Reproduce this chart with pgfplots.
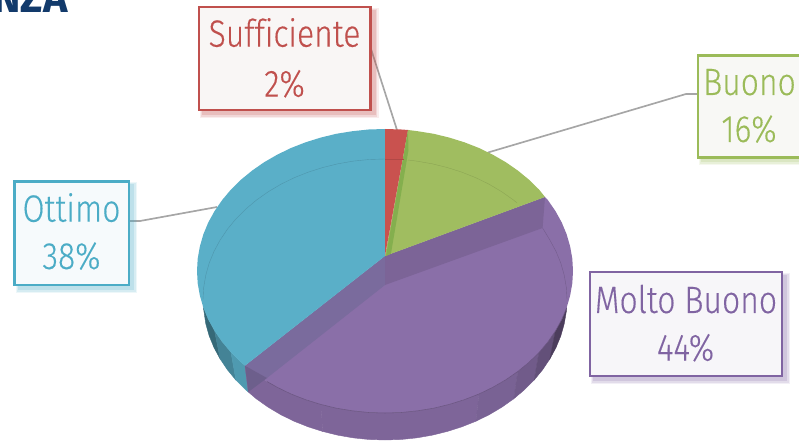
\documentclass[border=0pt]{standalone}
\usepackage{pgfplots}
\usepackage{fontspec}
\pgfplotsset{compat=1.18}
\setmainfont{Liberation Sans}
\newfontfamily\lab[FakeStretch=0.84,FakeBold=0.25,Ligatures=NoCommon]{Fira Sans Light}
\newfontfamily\ttl{Fira Sans}
\definecolor{cy}{HTML}{5AAFC8}
\definecolor{re}{HTML}{C9524F}
\definecolor{gr}{HTML}{A0BD60}
\definecolor{pu}{HTML}{8A6FA8}
\definecolor{bre}{HTML}{C0504D}
\definecolor{bgr}{HTML}{9BBB59}
\definecolor{bcy}{HTML}{4BACC6}
\definecolor{bpu}{HTML}{8064A2}
\definecolor{lead}{HTML}{A6A6A6}
\definecolor{fre}{HTML}{F9F6F5}
\definecolor{fcy}{HTML}{F6FAFC}
\definecolor{fgr}{HTML}{F8F8F5}
\definecolor{fpu}{HTML}{F7F6F9}
\definecolor{navy}{HTML}{123A6B}
\definecolor{sliver}{HTML}{84AF4E}
\newcommand{\lblbox}[6]{% x0 y0 x1 y1 border fill
  \fill[#5,opacity=.10] (axis cs:#1+1,#2+1) rectangle (axis cs:#3+8,#4+8);
  \fill[#5,opacity=.14] (axis cs:#1+2,#2+2) rectangle (axis cs:#3+6.5,#4+6.5);
  \fill[#5,opacity=.18] (axis cs:#1+3,#2+3) rectangle (axis cs:#3+5,#4+5);
  \draw[#5,line width=1.7pt,fill=#6] (axis cs:#1,#2) rectangle (axis cs:#3,#4);
}
\newcommand{\lbl}[4]{\node[anchor=base,text=#4,inner sep=0pt] at (axis cs:#1,#2) {\lab\fontsize{28.5}{28.5}\selectfont #3};}
\begin{document}
\begin{tikzpicture}
\useasboundingbox (0,0) rectangle (599.25pt,330.75pt);
\begin{axis}[at={(0,0)},anchor=south west,scale only axis,width=599.25pt,height=330.75pt,
  xmin=0,xmax=799,ymin=0,ymax=441,y dir=reverse,hide axis,clip=true]
% leader lines
\addplot[lead,line width=1.25pt] coordinates {(370.7,48) (397,130)};
\addplot[lead,line width=1.25pt] coordinates {(697,94) (686,94) (488,152.5)};
\addplot[lead,line width=1.25pt] coordinates {(129,221) (140,221) (217,207)};
% cyan side
\addplot[draw=cy!60!black,line width=.3pt,fill=cy!60!black] coordinates {(203.4,307.8)(208.3,319.6)(214.6,331)(220.1,358.9)(214,347.6)(209.2,335.9)(205.8,323.9)} --cycle;
\addplot[draw=cy!75!black,line width=.3pt,fill=cy!75!black] coordinates {(214.6,331)(222.2,342)(231,352.5)(235.9,380.1)(227.4,369.8)(220.1,358.9)} --cycle;
\addplot[draw=cy!88!black,line width=.3pt,fill=cy!88!black] coordinates {(231,352.5)(241,362.3)(245,365.7)(248.3,392)(245.6,389.8)(235.9,380.1)} --cycle;
% purple side
\addplot[draw=pu!91!black,line width=.3pt,fill=pu!91!black] coordinates {(245,365.7)(252.1,371.4)(264.2,379.8)(277.2,387.3)(291,394)(305.6,399.7)(320.7,404.4)(322.8,431.5)(308.1,426.8)(294,421.2)(280.6,414.6)(268,407.1)(256.3,398.8)(248.3,392)} --cycle;
\addplot[draw=pu!91!black,line width=.3pt,fill=pu!91!black] coordinates {(320.7,404.4)(336.3,408.2)(352.4,410.8)(368.6,412.5)(385,413)(401.4,412.5)(417.6,410.8)(433.7,408.2)(449.3,404.4)(464.4,399.7)(479,394)(476,421.2)(461.9,426.8)(447.2,431.5)(432.1,435.2)(416.6,437.9)(400.9,439.5)(385,440)(369.1,439.5)(353.4,437.9)(337.9,435.2)(322.8,431.5)} --cycle;
\addplot[draw=pu!88!black,line width=.3pt,fill=pu!88!black] coordinates {(479,394)(492.8,387.3)(505.8,379.8)(517.9,371.4)(513.7,398.8)(502,407.1)(489.4,414.6)(476,421.2)} --cycle;
\addplot[draw=pu!82!black,line width=.3pt,fill=pu!82!black] coordinates {(517.9,371.4)(529,362.3)(539,352.5)(534.1,380.1)(524.4,389.8)(513.7,398.8)} --cycle;
\addplot[draw=pu!72!black,line width=.3pt,fill=pu!72!black] coordinates {(539,352.5)(547.8,342)(555.4,331)(549.9,358.9)(542.6,369.8)(534.1,380.1)} --cycle;
\addplot[draw=pu!55!black,line width=.3pt,fill=pu!55!black] coordinates {(555.4,331)(561.7,319.6)(566.6,307.8)(566.3,311.7)(564.2,323.9)(560.8,335.9)(556,347.6)(549.9,358.9)} --cycle;
% top faces
\addplot[draw=none,fill=pu] coordinates {(385,256)(545,197)(547.8,200)(555.4,211)(561.7,222.4)(566.6,234.2)(570.1,246.3)(572.3,258.6)(573,271)(572.3,283.4)(570.1,295.7)(566.6,307.8)(561.7,319.6)(555.4,331)(547.8,342)(539,352.5)(529,362.3)(517.9,371.4)(505.8,379.8)(492.8,387.3)(479,394)(464.4,399.7)(449.3,404.4)(433.7,408.2)(417.6,410.8)(401.4,412.5)(385,413)(368.6,412.5)(352.4,410.8)(336.3,408.2)(320.7,404.4)(305.6,399.7)(291,394)(277.2,387.3)(264.2,379.8)(252.1,371.4)(245,365.7)} --cycle;
\addplot[draw=none,fill=pu!90!black] coordinates {(385,256)(545,197)(542.6,228)(385,285)} --cycle;
\addplot[draw=none,fill=pu!92!bcy!92!black] coordinates {(385,256)(385,285)(267,378)(245,365.7)} --cycle;
\addplot[draw=none,fill=pu!92!bcy!82!black] coordinates {(245,365.7)(267,378)(248.3,392)} --cycle;
\addplot[draw=none,fill=cy] coordinates {(385,256)(385,129)(368.6,129.5)(352.4,131.2)(336.3,133.8)(320.7,137.6)(305.6,142.3)(291,148)(277.2,154.7)(264.2,162.2)(252.1,170.6)(241,179.7)(231,189.5)(222.2,200)(214.6,211)(208.3,222.4)(203.4,234.2)(199.9,246.3)(197.7,258.6)(197,271)(197.7,283.4)(199.9,295.7)(203.4,307.8)(208.3,319.6)(214.6,331)(222.2,342)(231,352.5)(241,362.3)(245,365.7)} --cycle;
\addplot[draw=none,fill=gr] coordinates {(385,256)(408,130)(417.6,131.2)(433.7,133.8)(449.3,137.6)(464.4,142.3)(479,148)(492.8,154.7)(505.8,162.2)(517.9,170.6)(529,179.7)(539,189.5)(545,197)} --cycle;
\addplot[draw=none,fill=re] coordinates {(385,256)(385,129)(401.4,129.5)(408,130)} --cycle;
\addplot[draw=none,fill=sliver] coordinates {(408,130)(386,256)(391,253.5)(408.5,150)} --cycle;
% faint bottom rim lines
\addplot[cy!86!black,line width=.3pt] coordinates {(385,159)(369.1,159.5)(353.4,161.1)(337.9,163.8)(322.8,167.5)(308.1,172.2)(294,177.8)(280.6,184.4)(268,191.9)(256.3,200.2)(245.6,209.2)(235.9,218.9)(227.4,229.2)(220.1,240.1)(214,251.4)(209.2,263.1)(205.8,275.1)(203.7,287.3)(203,299.5)};
\addplot[gr!88!black,line width=.3pt] coordinates {(408,160)(416.6,161.1)(432.1,163.8)(447.2,167.5)(461.9,172.2)(476,177.8)(489.4,184.4)(502,191.9)(513.7,200.2)(517,203)};
\addplot[re!88!black,line width=.3pt] coordinates {(385,159)(404,159)};
\addplot[pu!84!black,line width=.3pt] coordinates {(542.6,228)(549.9,240.1)(556,251.4)(560.8,263.1)(564.2,275.1)(566.3,287.3)(567,299.5)};
% front edge of the top
\addplot[pu!76!black,line width=.4pt] coordinates {(267,381.5)(277.2,387.3)(291,394)(305.6,399.7)(320.7,404.4)(336.3,408.2)(352.4,410.8)(368.6,412.5)(385,413)(401.4,412.5)(417.6,410.8)(433.7,408.2)(449.3,404.4)(464.4,399.7)(479,394)(492.8,387.3)(505.8,379.8)(517.9,371.4)(529,362.3)(539,352.5)(547.8,342)(555.4,331)(561.7,319.6)(566.6,307.8)};
% boxes
\lblbox{198.7}{7.2}{370.5}{110.2}{bre}{fre}
\lblbox{14.5}{181.5}{129}{285.2}{bcy}{fcy}
\lblbox{697.7}{55.5}{820}{157.5}{bgr}{fgr}
\lblbox{590.3}{272.2}{782}{376.2}{bpu}{fpu}
\lbl{284.5}{46.7}{Sufficiente}{bre}
\lbl{284.5}{96.7}{2\%}{bre}
\lbl{749.5}{95}{Buono}{bgr}
\lbl{749}{142}{16\%}{bgr}
\lbl{71.5}{221.7}{Ottimo}{bcy}
\lbl{71.5}{269}{38\%}{bcy}
\lbl{686}{313}{Molto Buono}{bpu}
\lbl{685.5}{360.7}{44\%}{bpu}
\end{axis}
\node[anchor=base east,inner sep=0pt,text=navy] at (50.8pt,321.7pt) {\ttl\bfseries\fontsize{31}{31}\selectfont NZA};
\end{tikzpicture}
\end{document}
